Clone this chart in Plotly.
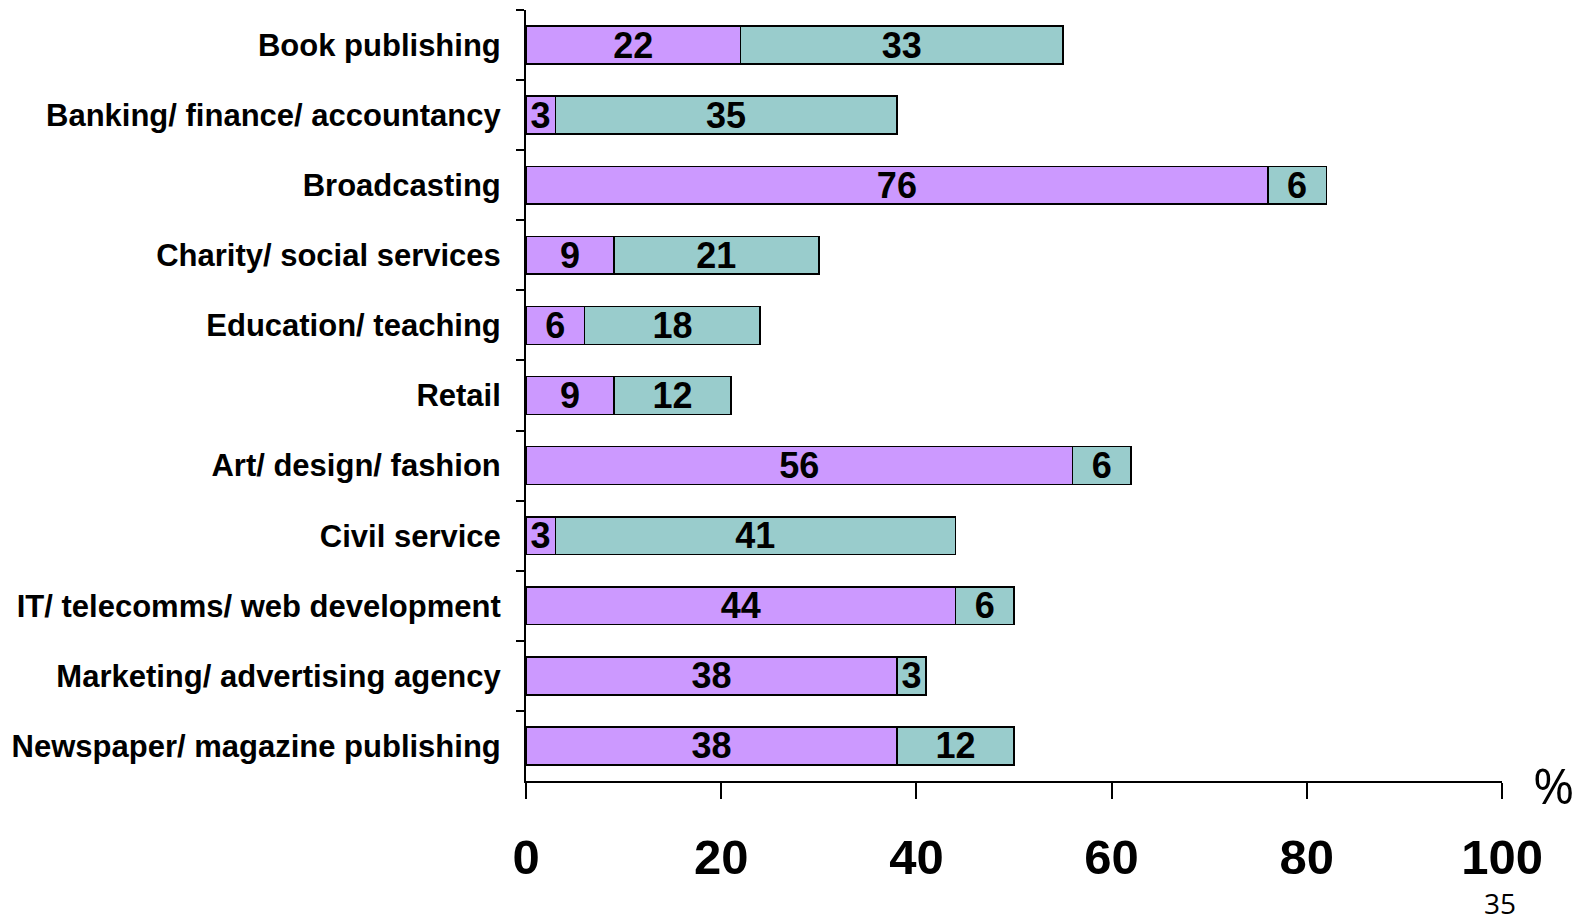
import plotly.graph_objects as go

categories = [
    "Book publishing",
    "Banking/ finance/ accountancy",
    "Broadcasting",
    "Charity/ social services",
    "Education/ teaching",
    "Retail",
    "Art/ design/ fashion",
    "Civil service",
    "IT/ telecomms/ web development",
    "Marketing/ advertising agency",
    "Newspaper/ magazine publishing",
]
series_a = [22, 3, 76, 9, 6, 9, 56, 3, 44, 38, 38]
series_b = [33, 35, 6, 21, 18, 12, 6, 41, 6, 3, 12]
x_ticks = [0, 20, 40, 60, 80, 100]

FONT = "Liberation Sans, Arial, sans-serif"
W, H = 1595, 923
ML, MR, MT, MB = 518, 101, 2, 150

fig = go.Figure()
for vals, color in [(series_a, "#CC99FF"), (series_b, "#99CCCC")]:
    fig.add_trace(go.Bar(
        y=categories, x=vals, orientation="h",
        marker=dict(color=color, line=dict(color="#000000", width=1.5)),
        width=0.54,
        text=[str(v) for v in vals],
        textposition="inside", insidetextanchor="middle",
        constraintext="none", textangle=0,
        textfont=dict(family=FONT, size=36, color="#000000", weight="bold"),
        showlegend=False, hoverinfo="skip",
    ))

pw = W - ML - MR
ph = H - MT - MB


def px(x, y):
    return (x - ML) / pw, (H - MB - y) / ph


pct_x, pct_y = px(1545, 777)
pg_x, pg_y = px(1492, 895)

fig.update_layout(
    barmode="stack",
    width=W, height=H,
    margin=dict(l=ML, r=MR, t=MT, b=MB),
    plot_bgcolor="white", paper_bgcolor="white",
    xaxis=dict(
        range=[0, 100], tickvals=x_ticks, ticktext=[str(t) for t in x_ticks],
        showgrid=False, zeroline=False,
        showline=True, linecolor="#000000", linewidth=2,
        ticks="outside", ticklen=16, tickwidth=2, tickcolor="#000000",
        tickfont=dict(family=FONT, size=49, color="#000000", weight="bold"),
        ticklabelstandoff=16,
    ),
    yaxis=dict(
        categoryorder="array", categoryarray=categories, autorange="reversed",
        showgrid=False, zeroline=False,
        showline=True, linecolor="#000000", linewidth=2,
        ticks="outside", ticklen=8, tickwidth=2, tickcolor="#000000",
        tickson="boundaries",
        tickfont=dict(family=FONT, size=31, color="#000000", weight="bold"),
        ticklabelstandoff=17,
    ),
    annotations=[
        dict(text="%", xref="paper", yref="paper", x=pct_x, y=pct_y,
             xanchor="center", yanchor="middle", showarrow=False,
             font=dict(family="Open Sans, sans-serif", size=50, color="#000000")),
        dict(text="35", xref="paper", yref="paper", x=pg_x, y=pg_y,
             xanchor="center", yanchor="middle", showarrow=False,
             font=dict(family="Open Sans, sans-serif", size=28, color="#000000")),
    ],
)

fig.write_html("out.html")
